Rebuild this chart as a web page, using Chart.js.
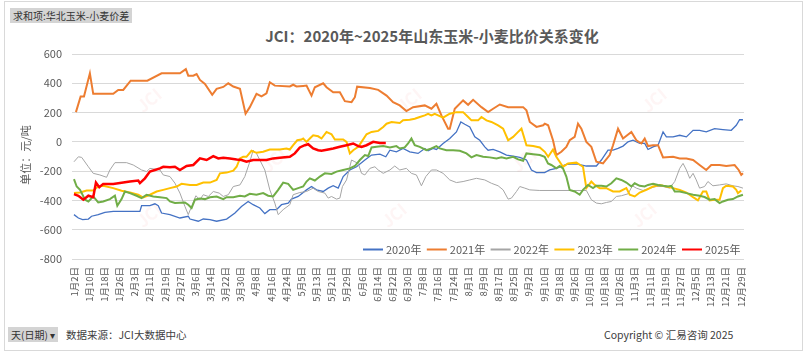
<!DOCTYPE html>
<html>
<head>
<meta charset="utf-8">
<script src="https://cdn.jsdelivr.net/npm/chart.js@4.4.0/dist/chart.umd.min.js"></script>
<style>
  body { margin: 0; background: #fff; font-family: "Noto Sans CJK SC", "Noto Sans", sans-serif; }
  #wrap { position: relative; width: 806px; height: 353px; overflow: hidden; }
  #frame { position: absolute; left: 4px; top: 1px; width: 799px; height: 350px; border: 1px solid #d9d9d9; box-sizing: border-box; }
  .btn { position: absolute; background: #d4d4d4; color: #333; font-size: 10px; line-height: 15px; padding: 0 3px; white-space: nowrap; }
  .txt { position: absolute; color: #404040; font-size: 10.5px; white-space: nowrap; }
  #title { position: absolute; left: 182px; width: 500px; top: 25px; text-align: center; color: #595959; font-size: 15px; font-weight: bold; }
  canvas { position: absolute; left: 0; top: 0; }
</style>
</head>
<body>
<div id="wrap">
  <div id="frame"></div>
  <div class="btn" style="left:10px;top:8px;">求和项:华北玉米-小麦价差</div>
  <div id="title">JCI：2020年~2025年山东玉米-小麦比价关系变化</div>
  <div class="btn" style="left:8px;top:327px;">天(日期) ▾</div>
  <div class="txt" style="left:66px;top:327px;">数据来源：JCI大数据中心</div>
  <div class="txt" style="left:604px;top:327px;">Copyright © 汇易咨询 2025</div>
  <canvas id="chart" width="806" height="353"></canvas>
</div>
<script>
// tick labels along the x axis (one every 8 trading days)
const DATES = ['1月2日','1月10日','1月18日','1月26日','2月3日','2月11日','2月19日','2月27日','3月6日','3月14日',
  '3月22日','3月30日','4月8日','4月16日','4月24日','5月5日','5月13日','5月21日','5月29日','6月6日',
  '6月14日','6月22日','6月30日','7月8日','7月16日','7月24日','8月1日','8月9日','8月17日','8月25日',
  '9月2日','9月10日','9月18日','9月26日','10月10日','10月18日','10月26日','11月3日','11月11日','11月19日',
  '11月27日','12月5日','12月13日','12月21日','12月29日'];

const YEARS = ['2020年','2021年','2022年','2023年','2024年','2025年'];
const COLORS = ['#4472C4','#ED7D31','#A5A5A5','#FFC000','#70AD47','#FF0000'];
const WIDTHS = [1.3, 2, 1, 2, 2, 2.5];

// [position in tick units, value 元/吨]
const s2020 = [[0,-497],[0.29,-520],[0.57,-531],[0.95,-527],[1.16,-508],[1.6,-497],[2.04,-481],[2.59,-475],[4.35,-475],[4.46,-436],[5.01,-436],[5.34,-423],[5.56,-436],[5.78,-486],[6.33,-497],[6.99,-520],[7.54,-508],[7.65,-527],[8.2,-542],[8.53,-527],[8.97,-531],[9.41,-542],[10.07,-527],[10.62,-486],[11.05,-441],[11.49,-407],[11.82,-429],[12.26,-452],[12.59,-490],[12.92,-463],[13.36,-463],[13.69,-429],[14.13,-418],[14.35,-391],[14.79,-373],[15.34,-328],[15.67,-305],[16.0,-328],[16.44,-339],[16.77,-316],[17.1,-300],[17.43,-316],[17.76,-237],[18.2,-192],[18.64,-170],[19.19,-124],[19.63,-90],[20.18,-84],[20.57,-102],[20.84,-57],[21.27,-68],[21.71,-45],[22.15,-68],[22.7,-79],[23.14,-45],[23.36,-61],[23.69,-45],[23.91,-52],[24.35,-11],[24.79,23],[25.23,68],[25.52,136],[25.78,120],[26.11,102],[26.44,34],[26.77,11],[27.1,-34],[27.32,-57],[27.65,-52],[28.09,-68],[28.53,-90],[28.97,-97],[29.41,-106],[29.85,-124],[30.18,-192],[30.51,-210],[31.05,-210],[31.38,-192],[31.82,-181],[32.48,-154],[33.14,-151],[33.8,-165],[34.46,-165],[34.79,-124],[35.23,-57],[35.56,-57],[35.89,-45],[36.22,-29],[36.55,0],[36.88,11],[37.32,-11],[37.65,-11],[37.87,-52],[38.2,-34],[38.53,-23],[38.86,68],[39.08,34],[39.52,34],[39.96,45],[40.4,34],[40.84,79],[41.27,79],[41.71,68],[42.26,90],[42.81,84],[43.36,79],[43.69,113],[43.91,151],[44.13,151]];

const s2021 = [[0.13,203],[0.44,310],[0.66,310],[1.05,468],[1.27,328],[2.59,328],[2.92,355],[3.25,355],[3.74,418],[4.84,418],[5.78,468],[6.99,468],[7.38,497],[7.54,452],[7.87,452],[8.09,463],[8.31,423],[8.64,395],[9.12,321],[9.41,362],[9.85,375],[10.18,400],[10.51,378],[10.95,362],[11.32,192],[11.6,237],[12.04,328],[12.37,310],[12.7,332],[12.92,407],[13.25,384],[14.24,378],[14.46,390],[14.68,378],[15.12,382],[15.34,384],[15.67,316],[15.89,373],[16.44,400],[16.66,373],[17.1,339],[17.54,339],[17.87,278],[18.31,271],[18.53,305],[18.68,377],[19.52,368],[20.07,355],[20.62,316],[21.05,271],[21.49,249],[21.93,210],[22.37,237],[23.14,249],[23.58,226],[23.91,260],[24.24,181],[24.68,90],[24.79,90],[25.12,226],[25.67,283],[26.0,253],[26.33,287],[26.88,237],[27.32,203],[27.65,226],[28.09,255],[28.64,237],[29.63,237],[29.85,215],[30.07,136],[30.51,102],[30.95,113],[31.06,124],[31.28,113],[31.6,11],[31.82,-90],[32.15,-68],[32.48,-34],[32.7,11],[33.03,34],[33.25,124],[33.47,90],[33.8,0],[34.13,-34],[34.46,-136],[34.9,-147],[35.34,-90],[35.56,-23],[35.89,90],[36.22,23],[36.77,68],[37.1,11],[37.43,-11],[37.65,23],[37.87,-29],[38.2,-23],[38.53,-23],[38.86,-106],[39.52,-102],[39.96,-113],[40.4,-113],[40.84,-124],[41.27,-158],[41.71,-192],[42.04,-158],[42.59,-158],[43.03,-165],[43.58,-158],[43.85,-192],[44.02,-226],[44.13,-215]];

const s2022 = [[0,-136],[0.29,-102],[0.51,-106],[0.95,-170],[1.27,-215],[1.71,-226],[2.15,-242],[2.37,-192],[2.7,-142],[3.47,-142],[3.91,-158],[4.46,-192],[4.79,-203],[5.01,-181],[5.67,-192],[5.89,-226],[6.33,-237],[6.66,-282],[6.99,-350],[7.32,-441],[7.54,-497],[7.76,-441],[8.04,-368],[8.31,-395],[8.53,-361],[8.86,-373],[9.19,-339],[9.58,-350],[9.85,-373],[10.18,-361],[10.51,-305],[10.95,-294],[11.27,-237],[11.6,-136],[11.82,-57],[12.04,-79],[12.26,-124],[12.59,-192],[12.92,-328],[13.25,-418],[13.47,-497],[13.8,-463],[14.24,-429],[14.46,-361],[14.9,-346],[15.34,-339],[15.78,-316],[16.11,-339],[16.55,-350],[16.77,-384],[16.99,-373],[17.32,-391],[17.54,-384],[17.71,-305],[17.98,-260],[18.31,-124],[18.53,-136],[18.75,-147],[18.97,-215],[19.19,-226],[19.52,-181],[19.85,-170],[20.07,-192],[20.4,-215],[20.84,-192],[21.16,-165],[21.49,-192],[21.93,-181],[22.26,-215],[22.59,-226],[22.92,-300],[23.21,-237],[23.58,-192],[23.91,-192],[24.35,-215],[24.79,-260],[25.23,-278],[25.67,-271],[26.11,-260],[26.55,-249],[27.1,-260],[27.54,-283],[27.98,-300],[28.31,-328],[28.64,-391],[28.86,-384],[29.19,-339],[29.41,-305],[29.74,-316],[30.07,-328],[30.73,-332],[32.92,-332],[33.8,-332],[34.13,-395],[34.46,-418],[34.79,-423],[35.12,-414],[35.45,-407],[35.78,-373],[36.11,-368],[36.55,-355],[36.84,-300],[37.1,-316],[37.54,-332],[37.98,-316],[38.42,-305],[38.86,-305],[39.3,-316],[39.63,-271],[39.96,-181],[40.18,-147],[40.4,-192],[40.62,-249],[40.84,-215],[41.05,-260],[41.27,-316],[41.6,-305],[41.82,-271],[42.15,-300],[42.59,-294],[43.03,-287],[43.47,-300],[43.8,-305],[44.13,-316]];

const s2023 = [[0,-350],[0.4,-346],[0.84,-332],[1.27,-332],[1.6,-305],[1.93,-300],[2.59,-316],[3.14,-334],[3.69,-346],[4.24,-361],[4.57,-380],[5.01,-361],[5.45,-339],[5.89,-328],[6.33,-316],[6.77,-305],[7.1,-287],[7.65,-294],[8.09,-294],[8.53,-278],[8.97,-278],[9.41,-260],[9.63,-215],[10.07,-210],[10.51,-197],[10.73,-170],[10.95,-113],[11.16,-102],[11.38,-102],[11.71,-61],[12.04,-75],[12.48,-68],[12.92,-52],[13.58,-52],[14.02,-45],[14.24,-52],[14.46,-23],[14.73,11],[15.01,16],[15.12,23],[15.34,0],[15.56,23],[15.78,45],[16.11,38],[16.33,23],[16.66,68],[16.99,52],[17.21,16],[17.76,16],[17.98,0],[18.2,-79],[18.42,-57],[18.75,-34],[18.97,0],[19.3,52],[19.63,68],[20.07,75],[20.4,102],[20.62,124],[20.95,136],[21.49,129],[21.71,147],[22.15,151],[22.48,158],[22.81,170],[23.14,181],[23.36,192],[23.58,181],[23.8,192],[24.02,181],[24.35,165],[24.79,192],[25.23,203],[25.67,203],[26.0,170],[26.22,147],[26.66,147],[26.88,170],[27.21,147],[27.54,136],[27.98,113],[28.31,90],[28.64,11],[28.97,34],[29.3,68],[29.52,90],[29.85,-23],[30.29,-29],[30.73,-38],[31.06,-68],[31.28,-102],[31.6,-52],[31.82,-102],[32.04,-136],[32.26,-170],[32.59,-147],[33.14,-142],[33.58,-170],[33.8,-316],[34.13,-271],[34.35,-294],[34.68,-316],[35.12,-316],[35.56,-339],[36.0,-339],[36.44,-316],[36.66,-361],[36.99,-373],[37.32,-346],[37.76,-328],[38.2,-305],[38.64,-294],[39.08,-305],[39.52,-316],[39.96,-328],[40.4,-346],[40.84,-378],[41.16,-400],[41.49,-339],[41.71,-339],[41.93,-400],[42.26,-395],[42.59,-395],[42.81,-316],[43.03,-300],[43.47,-305],[43.69,-328],[43.8,-350],[44.02,-332]];

const s2024 = [[0,-255],[0.18,-305],[0.4,-328],[0.73,-395],[0.95,-407],[1.27,-373],[1.6,-414],[1.93,-407],[2.37,-391],[2.7,-368],[2.86,-436],[3.14,-391],[3.36,-339],[3.69,-350],[4.13,-368],[4.46,-384],[4.79,-361],[5.23,-373],[5.67,-378],[6.11,-384],[6.33,-407],[6.66,-418],[7.32,-414],[7.54,-429],[7.76,-452],[7.98,-395],[8.31,-387],[8.64,-391],[8.97,-378],[9.41,-373],[9.85,-391],[10.07,-378],[10.51,-378],[10.95,-368],[11.27,-373],[11.6,-355],[12.04,-361],[12.48,-350],[12.81,-368],[13.14,-373],[13.47,-328],[13.8,-278],[14.13,-287],[14.46,-328],[14.79,-316],[15.12,-305],[15.34,-271],[15.56,-249],[15.89,-264],[16.22,-237],[16.55,-215],[16.99,-219],[17.32,-203],[17.76,-192],[18.2,-181],[18.53,-165],[18.86,-124],[19.19,-90],[19.41,-97],[19.63,-38],[19.96,-34],[20.4,-29],[20.84,-38],[21.27,-29],[21.49,-45],[21.82,-38],[22.04,-11],[22.26,23],[22.48,-23],[22.81,-34],[23.25,-57],[23.58,-45],[23.91,-29],[24.13,-45],[24.57,-57],[25.01,-57],[25.45,-61],[25.89,-79],[26.22,-106],[26.55,-90],[26.99,-102],[27.43,-106],[27.87,-113],[28.2,-106],[28.53,-113],[28.97,-102],[29.3,-120],[29.63,-129],[29.85,-79],[30.29,-84],[30.73,-90],[31.05,-102],[31.27,-147],[31.49,-158],[31.82,-181],[32.04,-165],[32.26,-181],[32.48,-237],[32.7,-328],[33.03,-339],[33.36,-361],[33.58,-328],[33.91,-294],[34.24,-316],[34.46,-300],[34.79,-300],[35.12,-305],[35.45,-283],[35.78,-249],[36.11,-260],[36.44,-278],[36.77,-305],[36.99,-283],[37.32,-300],[37.65,-305],[37.87,-294],[38.2,-287],[38.53,-294],[38.86,-300],[39.19,-305],[39.41,-300],[39.63,-339],[39.96,-339],[40.4,-350],[40.84,-361],[41.27,-368],[41.6,-377],[41.93,-395],[42.26,-391],[42.59,-418],[42.81,-407],[43.14,-395],[43.47,-391],[43.8,-373],[44.13,-361]];

const s2025 = [[0,-357],[0.29,-368],[0.62,-395],[0.95,-368],[1.27,-378],[1.45,-278],[1.67,-310],[1.93,-287],[2.59,-287],[3.25,-278],[3.69,-271],[4.24,-264],[4.35,-282],[4.68,-249],[5.01,-203],[5.34,-192],[5.67,-181],[5.89,-170],[6.33,-174],[6.66,-170],[6.99,-192],[7.43,-165],[7.87,-158],[8.31,-113],[8.75,-124],[9.19,-97],[9.52,-113],[9.85,-108],[10.29,-113],[10.73,-120],[11.05,-124],[11.38,-136],[11.82,-124],[12.7,-124],[13.14,-113],[13.58,-108],[14.24,-102],[14.57,-79],[14.9,-38],[15.23,-23],[15.45,-16],[15.78,-45],[16.11,-57],[16.33,-61],[16.77,-52],[17.1,-45],[17.54,-34],[17.98,-23],[18.42,-11],[18.75,-29],[18.97,-34],[19.3,-23],[19.74,0],[20.18,-7],[20.57,-7]];

const SERIES = [s2020, s2021, s2022, s2023, s2024, s2025];
const Y_TICKS = [600, 400, 200, 0, -200, -400, -600, -800];

const GRAY = '#595959';
const FONT = '"Noto Sans CJK SC", "Noto Sans", sans-serif';

// y title, in-plot legend and faint watermarks
const decor = {
  id: 'decor',
  beforeDatasetsDraw(chart) {
    const ctx = chart.ctx;
    ctx.save();
    ctx.fillStyle = 'rgba(235,120,120,0.07)';
    ctx.font = 'bold 17px ' + FONT;
    [[150,100],[410,100],[655,100],[275,160],[525,160],[150,215],[395,215],[645,215]].forEach(p => {
      ctx.save();
      ctx.translate(p[0], p[1]);
      ctx.rotate(-0.7);
      ctx.fillText('JCI', -14, 6);
      ctx.restore();
    });
    ctx.restore();
  },
  afterDraw(chart) {
    const ctx = chart.ctx;
    ctx.save();
    // y axis title
    ctx.translate(26, 155);
    ctx.rotate(-Math.PI / 2);
    ctx.fillStyle = GRAY;
    ctx.font = '11px ' + FONT;
    ctx.textAlign = 'center';
    ctx.textBaseline = 'middle';
    ctx.fillText('单位：元/吨', 0, 0);
    ctx.restore();

    // legend
    ctx.save();
    ctx.font = '11px ' + FONT;
    ctx.textBaseline = 'middle';
    YEARS.forEach((name, i) => {
      const x = 363 + i * 63.8, y = 249.5;
      ctx.strokeStyle = COLORS[i];
      ctx.lineWidth = 2;
      ctx.beginPath();
      ctx.moveTo(x, y);
      ctx.lineTo(x + 20, y);
      ctx.stroke();
      ctx.fillStyle = GRAY;
      ctx.fillText(name, x + 23, y);
    });
    ctx.restore();
  }
};

new Chart(document.getElementById('chart'), {
  type: 'line',
  data: {
    datasets: SERIES.map((s, i) => ({
      label: YEARS[i],
      data: s.map(p => ({ x: p[0], y: p[1] })),
      borderColor: COLORS[i],
      backgroundColor: COLORS[i],
      borderWidth: WIDTHS[i],
      pointRadius: 0,
      tension: 0,
      order: 6 - i
    }))
  },
  options: {
    responsive: false,
    animation: false,
    layout: { padding: { top: 54, right: 62, bottom: 0, left: 0 } },
    plugins: { legend: { display: false }, tooltip: { enabled: false } },
    scales: {
      x: {
        type: 'linear',
        min: -0.13,
        max: 44.2,
        afterBuildTicks: sc => { sc.ticks = DATES.map((d, i) => ({ value: i })); },
        afterFit: sc => { sc.height = 94; },
        grid: { display: false, drawTicks: false },
        border: { display: false },
        ticks: {
          autoSkip: false,
          minRotation: 90,
          maxRotation: 90,
          padding: 8,
          color: GRAY,
          font: { size: 9.5, family: FONT },
          callback: v => DATES[v] || ''
        }
      },
      y: {
        min: -800,
        max: 600,
        afterBuildTicks: sc => { sc.ticks = Y_TICKS.map(v => ({ value: v })); },
        afterFit: sc => { sc.width = 72; },
        grid: { color: '#d9d9d9', drawTicks: false },
        border: { display: false },
        ticks: { padding: 10, color: GRAY, font: { size: 11, family: FONT } }
      }
    }
  },
  plugins: [decor]
});
</script>
</body>
</html>
